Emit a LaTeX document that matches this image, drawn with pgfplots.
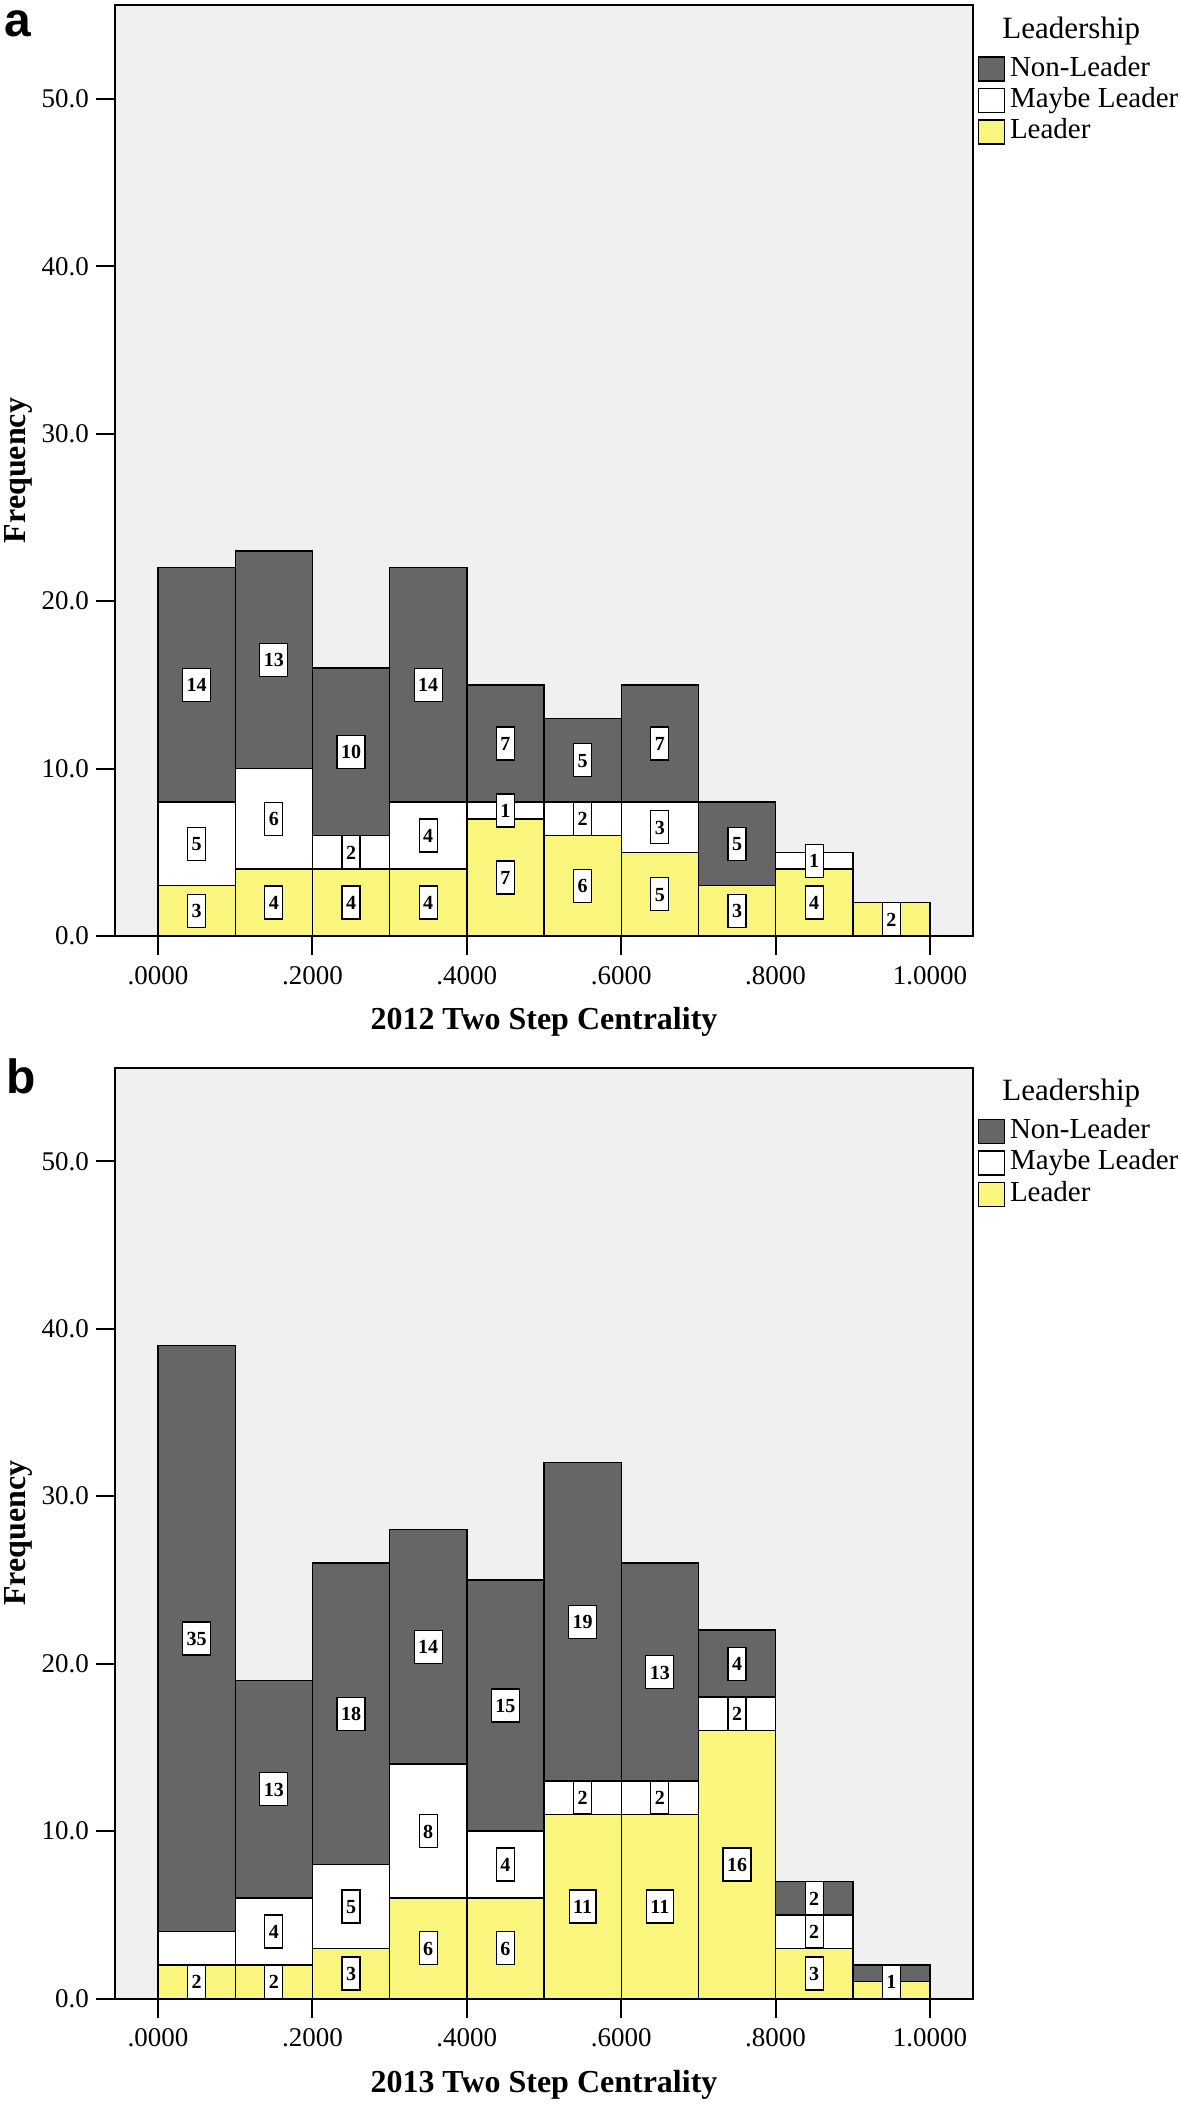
\documentclass[border=0pt]{standalone}
\usepackage{pgfplots}
\pgfplotsset{compat=1.18}
\usepackage{pgfplotstable}
\usepackage{fontspec}
\setmainfont{Liberation Serif}
\setsansfont{Liberation Sans}
\definecolor{bgc}{RGB}{240,240,240}
\definecolor{dk}{RGB}{102,102,102}
\definecolor{ylw}{RGB}{250,245,125}

\pgfplotstableread{
x L M N
0.05 3 5 14
0.15 4 6 13
0.25 4 2 10
0.35 4 4 14
0.45 7 1 7
0.55 6 2 5
0.65 5 3 7
0.75 3 0 5
0.85 4 1 0
0.95 2 0 0
}\dataA

\pgfplotstableread{
x L M N
0.05 2 2 35
0.15 2 4 13
0.25 3 5 18
0.35 6 8 14
0.45 6 4 15
0.55 11 2 19
0.65 11 2 13
0.75 16 2 4
0.85 3 2 2
0.95 1 0 1
}\dataB

\pgfplotstableread{
x y lab
0.05 1.5 3
0.05 5.5 5
0.05 15 14
0.15 2 4
0.15 7 6
0.15 16.5 13
0.25 2 4
0.25 5 2
0.25 11 10
0.35 2 4
0.35 6 4
0.35 15 14
0.45 3.5 7
0.45 7.5 1
0.45 11.5 7
0.55 3 6
0.55 7 2
0.55 10.5 5
0.65 2.5 5
0.65 6.5 3
0.65 11.5 7
0.75 1.5 3
0.75 5.5 5
0.85 2 4
0.85 4.5 1
0.95 1 2
}\labA

\pgfplotstableread{
x y lab
0.05 1 2
0.05 21.5 35
0.15 1 2
0.15 4 4
0.15 12.5 13
0.25 1.5 3
0.25 5.5 5
0.25 17 18
0.35 3 6
0.35 10 8
0.35 21 14
0.45 3 6
0.45 8 4
0.45 17.5 15
0.55 5.5 11
0.55 12 2
0.55 22.5 19
0.65 5.5 11
0.65 12 2
0.65 19.5 13
0.75 8 16
0.75 17 2
0.75 20 4
0.85 1.5 3
0.85 4 2
0.85 6 2
0.95 1 1
}\labB

\pgfplotsset{
  panel/.style={
    scale only axis, width=429pt, height=465.5pt,
    xmin=-0.0557, xmax=1.0557, ymin=0, ymax=55.6,
  },
  barpanel/.style={
    panel, clip mode=individual,
    axis background/.style={fill=bgc},
    axis line style={line width=1pt},
    ybar stacked, bar width=0.1,
    xtick={0,0.2,0.4,0.6,0.8,1},
    xticklabels={.0000,.2000,.4000,.6000,.8000,1.0000},
    ytick={0,10,20,30,40,50},
    yticklabels={0.0,10.0,20.0,30.0,40.0,50.0},
    tick pos=left, tick align=outside,
    major tick length=9.5pt,
    tick style={line width=1pt, black},
    ticklabel style={font=\fontsize{13.5}{13.5}\selectfont},
    xticklabel style={yshift=-2pt},
    ylabel={\bfseries Frequency},
    ylabel style={at={(axis description cs:-0.113,0.5)}, anchor=center, font=\fontsize{16}{16}\selectfont},
    xlabel style={at={(axis description cs:0.5,-0.0924)}, anchor=center, font=\fontsize{16}{16}\selectfont},
    legend cell align=left, reverse legend,
    legend style={at={(1,1)}, anchor=north west, xshift=2.3pt, yshift=-24.5pt,
      draw=none, fill=none, inner sep=0pt, outer sep=0pt,
      font=\fontsize{14.5}{14.5}\selectfont, row sep=0.7pt, column sep=2.5pt,
      nodes={inner sep=0pt, text height=11pt, text depth=4pt}},
  },
  labpanel/.style={panel, hide axis, clip=false},
  seg/.style={draw=black, line width=0.7pt,
    legend image code/.code={\draw[##1, line width=0.7pt] (0pt,-6pt) rectangle (13pt,6pt);}},
  labplot/.style={only marks, mark=none, nodes near coords, point meta=explicit symbolic,
    every node near coord/.style={anchor=center, fill=white, draw=black, line width=0.6pt,
      font=\bfseries\fontsize{10}{10}\selectfont, inner xsep=2pt, inner ysep=0pt,
      minimum height=16.5pt, text height=7pt, text depth=0pt}},
}

\begin{document}
\begin{tikzpicture}
\useasboundingbox (0,0) rectangle (590.5pt,-1053pt);

% ---- panel a ----
\begin{axis}[barpanel, at={(57.5pt,-468pt)}, anchor=south west,
  xlabel={\bfseries 2012 Two Step Centrality}]
\addplot[seg, fill=ylw] table[x=x, y=L] {\dataA};
\addlegendentry{Leader}
\addplot[seg, fill=white] table[x=x, y=M] {\dataA};
\addlegendentry{Maybe Leader}
\addplot[seg, fill=dk] table[x=x, y=N] {\dataA};
\addlegendentry{Non-Leader}
\node[anchor=west, font=\fontsize{15.5}{15.5}\selectfont, inner sep=0pt] at ([xshift=14.5pt, yshift=-12.8pt]rel axis cs:1,1) {Leadership};
\end{axis}
\begin{axis}[labpanel, at={(57.5pt,-468pt)}, anchor=south west]
\addplot[labplot] table[x=x, y=y, meta=lab] {\labA};
\end{axis}

% ---- panel b ----
\begin{axis}[barpanel, at={(57.5pt,-999.25pt)}, anchor=south west,
  xlabel={\bfseries 2013 Two Step Centrality}]
\addplot[seg, fill=ylw] table[x=x, y=L] {\dataB};
\addlegendentry{Leader}
\addplot[seg, fill=white] table[x=x, y=M] {\dataB};
\addlegendentry{Maybe Leader}
\addplot[seg, fill=dk] table[x=x, y=N] {\dataB};
\addlegendentry{Non-Leader}
\node[anchor=west, font=\fontsize{15.5}{15.5}\selectfont, inner sep=0pt] at ([xshift=14.5pt, yshift=-12.8pt]rel axis cs:1,1) {Leadership};
\end{axis}
\begin{axis}[labpanel, at={(57.5pt,-999.25pt)}, anchor=south west]
\addplot[labplot] table[x=x, y=y, meta=lab] {\labB};
\end{axis}

\node[anchor=base west, font=\sffamily\bfseries\fontsize{24}{24}\selectfont, inner sep=0pt] at (2pt,-18pt) {a};
\node[anchor=base west, font=\sffamily\bfseries\fontsize{24}{24}\selectfont, inner sep=0pt] at (3pt,-546.5pt) {b};
\end{tikzpicture}
\end{document}
